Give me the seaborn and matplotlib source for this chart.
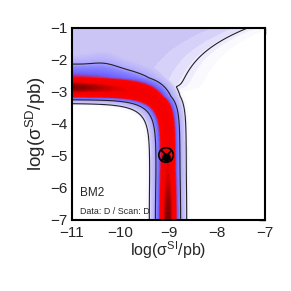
import numpy as np
import matplotlib
matplotlib.use('Agg')
import matplotlib.pyplot as plt
import seaborn as sns
from matplotlib.colors import LinearSegmentedColormap

#Axis ticks
si_ticks = [-11, -10, -9, -8, -7]
sd_ticks = [-7, -6, -5, -4, -3, -2, -1]

#L-shaped likelihood band (log pb)
si_center = -9.01        #vertical branch
si_width = 0.155
sd_center = -2.85        #horizontal branch
sd_width = 0.29
sd_lower_steep = 3.35    #faster drop below the horizontal branch
sd_upper_slope = 1.56    #slow tail above it
corner_soft = 2.6

#Plateau at large sigma_SD, bounded by the diagonal edge
plateau_level = 0.09
edge_sd0, edge_si0 = -2.95, -8.80
edge_c1, edge_c2 = 0.287, 0.117

#Best fit point and mean
best_si, best_sd = [-9.05], [-4.97]
mean_si, mean_sd = [-9.05], [-5.04]

#Profile likelihood contours (1 and 2 sigma)
contour_levels = [0.044, 0.24]


def sig(z):
    return 1.0 / (1.0 + np.exp(-z))


xs = np.linspace(-11, -7, 401)
ys = np.linspace(-7, -1, 601)
X, Y = np.meshgrid(xs, ys)

a = (X - si_center) / si_width
dy = Y - sd_center
bump = 1 + 0.25 * np.exp(-((X + 10.3) / 0.35) ** 2) - 0.2 * sig((X + 9.8) / 0.3)
b_low = dy / sd_width - sd_lower_steep * np.maximum(0, -dy - sd_width)
b_up = np.where(dy < sd_width, dy / sd_width,
                1 + sd_upper_slope * (dy - sd_width) / bump)
b = np.where(dy < 0, b_low, b_up)
d = corner_soft * np.logaddexp(a / corner_soft, b / corner_soft)

amp = 0.85 + 0.15 * np.maximum(sig((-10.4 - X) / 0.25), sig((-6.0 - Y) / 0.35))
band = amp * np.exp(-0.5 * d ** 2)

u = Y - edge_sd0
edge_x = edge_si0 + edge_c1 * u + edge_c2 * u ** 3
plateau = plateau_level * sig((edge_x - X) / 0.3) * sig((Y - edge_sd0) / 0.06)

field = np.maximum(band, plateau)

cmap = LinearSegmentedColormap.from_list('like', [
    (0.0, '#ffffff'), (0.015, '#ffffff'), (0.044, '#ece9fd'),
    (0.09, '#cbc5f6'), (0.24, '#aea6ff'), (0.32, '#8a84ff'),
    (0.48, '#6a62ff'), (0.6, '#ff0000'), (0.86, '#f40000'),
    (1.0, '#780000')])

sns.set_style('white')
plt.rcParams['font.family'] = 'Liberation Sans'
plt.rcParams['mathtext.fontset'] = 'custom'
plt.rcParams['mathtext.rm'] = 'Liberation Sans'

fig, ax = plt.subplots(figsize=(2.91, 2.91), dpi=100)
fig.subplots_adjust(left=0.247, right=0.911, bottom=0.244, top=0.904)

ax.contourf(X, Y, field, levels=np.linspace(0, 1, 61), cmap=cmap, vmin=0, vmax=1)
ax.contour(X, Y, field, levels=contour_levels, colors='#222222', linewidths=0.8)

sns.scatterplot(x=best_si, y=best_sd, marker='o', s=110, facecolors='none',
                edgecolors='black', linewidth=1.2, ax=ax, zorder=5)
sns.scatterplot(x=best_si, y=best_sd, marker='x', s=60, color='black',
                linewidth=1.2, ax=ax, zorder=5)
sns.scatterplot(x=mean_si, y=mean_sd, marker='o', s=30, color='black',
                edgecolor='black', ax=ax, zorder=6)

ax.set_xlim(-11, -7)
ax.set_ylim(-7, -1)
ax.set_xticks(si_ticks)
ax.set_yticks(sd_ticks)
ax.set_xticklabels([f'\u2212{abs(t)}' for t in si_ticks])
ax.set_yticklabels([f'\u2212{abs(t)}' for t in sd_ticks])
ax.tick_params(direction='in', length=4, width=1, top=True, right=True,
               labelsize=11, pad=3)
ax.tick_params(axis='x', pad=4)
for s in ax.spines.values():
    s.set_linewidth(1.5)
    s.set_color('black')

ax.set_xlabel('log(\u03c3$^{\\mathregular{SI}}$/pb)', fontsize=11.5, labelpad=0)
ax.set_ylabel('log(\u03c3$^{\\mathregular{SD}}$/pb)', fontsize=13.5, labelpad=2)

ax.text(-10.83, -6.16, 'BM2', fontsize=8.5, va='center', ha='left')
ax.text(-10.83, -6.74, 'Data: D / Scan: D', fontsize=6.4, va='center', ha='left')

fig.savefig('out.png', dpi=100)
